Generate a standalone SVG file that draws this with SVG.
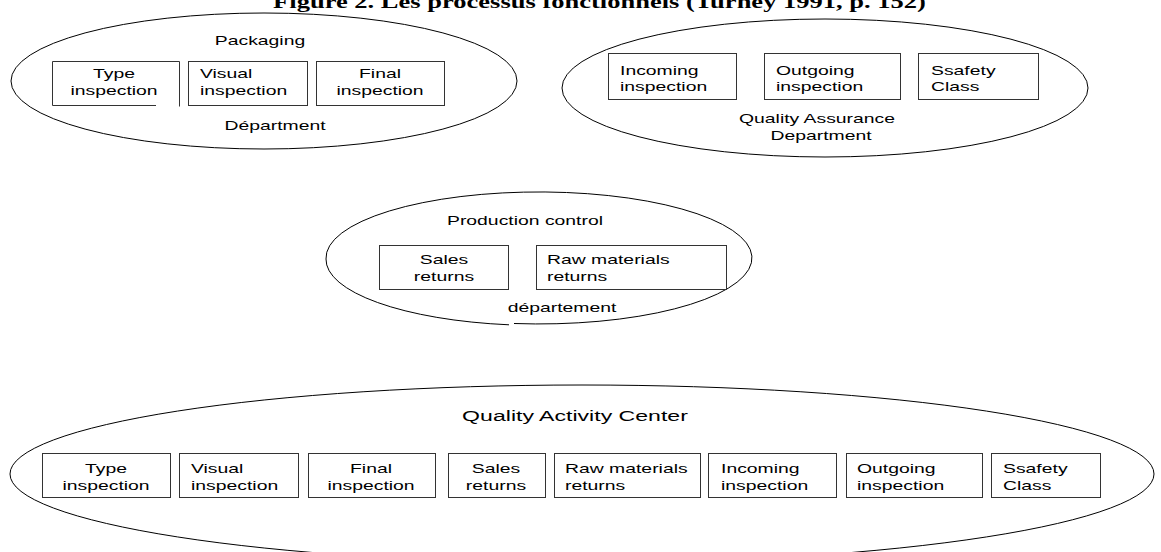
<svg xmlns="http://www.w3.org/2000/svg" width="1161" height="552" viewBox="0 0 1161 552">
<style>
.ell{fill:none;stroke:#000;stroke-width:1}
.box{fill:#fff;stroke:#333;stroke-width:1}
.t{font-family:"Liberation Sans",Arial,sans-serif;font-size:13px;fill:#000}
.c{text-anchor:middle}
.big{font-size:15.5px}
.title{font-family:"Liberation Serif","Times New Roman",serif;font-weight:bold;font-size:17.8px;text-anchor:middle;fill:#000}
</style>
<rect width="1161" height="552" fill="#fff"/>
<g id="title"><text class="title" transform="translate(599.5,7.5) scale(1.49,1)">Figure 2. Les processus fonctionnels (Turney 1991, p. 152)</text></g>
<g id="connectors"/>

<g id="packaging">
<ellipse class="ell" cx="264" cy="81" rx="253" ry="68"/>
<text class="t c" transform="translate(260,45) scale(1.49,1)">Packaging</text>
<g id="pk-type">
<path class="box" d="M52.5,61.5 H179.5 V106.5 M52.5,61.5 V105.5 H156"/>
<text class="t c" transform="translate(114,78) scale(1.49,1)">Type</text>
<text class="t c" transform="translate(114,95) scale(1.49,1)">inspection</text>
</g>
<g id="pk-visual">
<rect class="box" x="188.5" y="61.5" width="119" height="44"/>
<text class="t" transform="translate(200,78) scale(1.49,1)">Visual</text>
<text class="t" transform="translate(200,95) scale(1.49,1)">inspection</text>
</g>
<g id="pk-final">
<rect class="box" x="316.5" y="61.5" width="128" height="44"/>
<text class="t c" transform="translate(380,78) scale(1.49,1)">Final</text>
<text class="t c" transform="translate(380,95) scale(1.49,1)">inspection</text>
</g>
<text class="t c" transform="translate(275,130) scale(1.49,1)">Départment</text>
</g>

<g id="quality-assurance">
<ellipse class="ell" cx="825" cy="88" rx="263" ry="69"/>
<g id="qa-incoming">
<rect class="box" x="608.5" y="53.5" width="128" height="46"/>
<text class="t" transform="translate(620,75) scale(1.49,1)">Incoming</text>
<text class="t" transform="translate(620,91) scale(1.49,1)">inspection</text>
</g>
<g id="qa-outgoing">
<rect class="box" x="764.5" y="53.5" width="136" height="46"/>
<text class="t" transform="translate(776,75) scale(1.49,1)">Outgoing</text>
<text class="t" transform="translate(776,91) scale(1.49,1)">inspection</text>
</g>
<g id="qa-safety">
<rect class="box" x="918.5" y="53.5" width="120" height="46"/>
<text class="t" transform="translate(931,75) scale(1.49,1)">Ssafety</text>
<text class="t" transform="translate(931,91) scale(1.49,1)">Class</text>
</g>
<text class="t c" transform="translate(817,123) scale(1.49,1)">Quality Assurance</text>
<text class="t c" transform="translate(821,140) scale(1.49,1)">Department</text>
</g>

<g id="production-control">
<path class="ell" d="M326,259 A213,66 0 1 1 514,323.5 M509,324.8 A213,66 0 0 1 326,259"/>
<text class="t c" transform="translate(525,225) scale(1.49,1)">Production control</text>
<g id="pc-sales">
<rect class="box" x="379.5" y="245.5" width="129" height="44"/>
<text class="t c" transform="translate(444,264) scale(1.49,1)">Sales</text>
<text class="t c" transform="translate(444,281) scale(1.49,1)">returns</text>
</g>
<g id="pc-raw">
<rect class="box" x="536.5" y="245.5" width="190" height="44"/>
<text class="t" transform="translate(547,264) scale(1.49,1)">Raw materials</text>
<text class="t" transform="translate(547,281) scale(1.49,1)">returns</text>
</g>
<text class="t c" transform="translate(562,312) scale(1.49,1)">département</text>
</g>

<g id="quality-activity-center">
<ellipse class="ell" cx="582" cy="474" rx="572" ry="89"/>
<text class="t big c" transform="translate(575,421) scale(1.49,1)">Quality Activity Center</text>
<g id="qac-type">
<rect class="box" x="42.5" y="453.5" width="128" height="44"/>
<text class="t c" transform="translate(106,473) scale(1.49,1)">Type</text>
<text class="t c" transform="translate(106,490) scale(1.49,1)">inspection</text>
</g>
<g id="qac-visual">
<rect class="box" x="179.5" y="453.5" width="119" height="44"/>
<text class="t" transform="translate(191,473) scale(1.49,1)">Visual</text>
<text class="t" transform="translate(191,490) scale(1.49,1)">inspection</text>
</g>
<g id="qac-final">
<rect class="box" x="308.5" y="453.5" width="127" height="44"/>
<text class="t c" transform="translate(371,473) scale(1.49,1)">Final</text>
<text class="t c" transform="translate(371,490) scale(1.49,1)">inspection</text>
</g>
<g id="qac-sales">
<rect class="box" x="448.5" y="453.5" width="97" height="44"/>
<text class="t c" transform="translate(496,473) scale(1.49,1)">Sales</text>
<text class="t c" transform="translate(496,490) scale(1.49,1)">returns</text>
</g>
<g id="qac-raw">
<rect class="box" x="554.5" y="453.5" width="146" height="44"/>
<text class="t" transform="translate(565,473) scale(1.49,1)">Raw materials</text>
<text class="t" transform="translate(565,490) scale(1.49,1)">returns</text>
</g>
<g id="qac-incoming">
<rect class="box" x="708.5" y="453.5" width="128" height="44"/>
<text class="t" transform="translate(721,473) scale(1.49,1)">Incoming</text>
<text class="t" transform="translate(721,490) scale(1.49,1)">inspection</text>
</g>
<g id="qac-outgoing">
<rect class="box" x="846.5" y="453.5" width="136" height="44"/>
<text class="t" transform="translate(857,473) scale(1.49,1)">Outgoing</text>
<text class="t" transform="translate(857,490) scale(1.49,1)">inspection</text>
</g>
<g id="qac-safety">
<rect class="box" x="991.5" y="453.5" width="109" height="44"/>
<text class="t" transform="translate(1003,473) scale(1.49,1)">Ssafety</text>
<text class="t" transform="translate(1003,490) scale(1.49,1)">Class</text>
</g>
</g>
</svg>
